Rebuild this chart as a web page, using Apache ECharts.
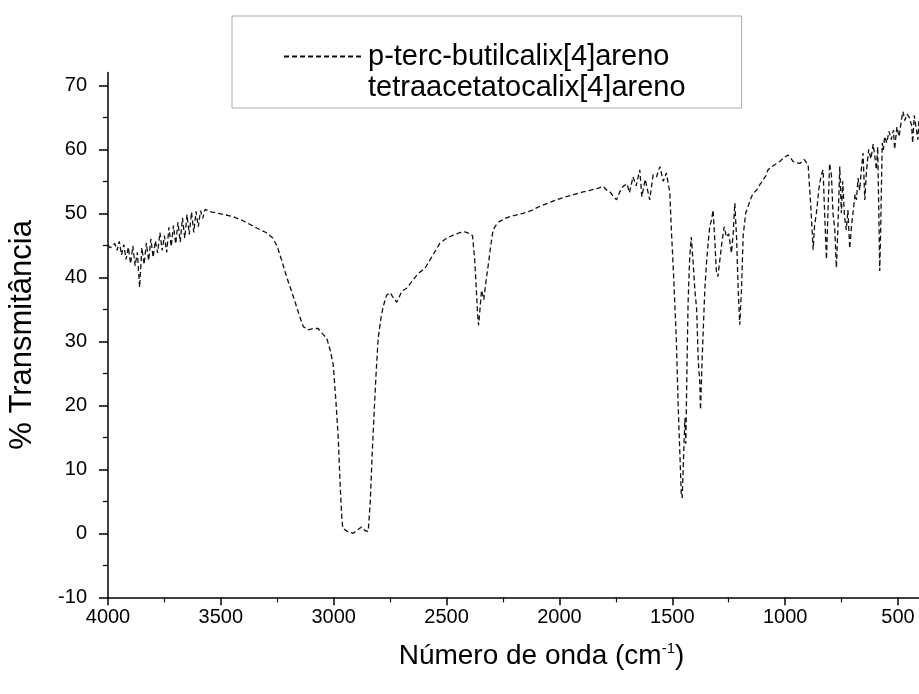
<!DOCTYPE html>
<html>
<head>
<meta charset="utf-8">
<script src="https://cdn.jsdelivr.net/npm/echarts@6/dist/echarts.min.js"></script>
<style>
html,body{margin:0;padding:0;background:#fff;}
#chart{width:919px;height:694px;}
</style>
</head>
<body>
<div id="chart"></div>
<script>
// ---- data ----
const seriesNames = ['p-terc-butilcalix[4]areno', 'tetraacetatocalix[4]areno'];
const xTicks = [4000, 3500, 3000, 2500, 2000, 1500, 1000, 500];
const xMinorTicks = [3750, 3250, 2750, 2250, 1750, 1250, 750];
const yTicks = [-10, 0, 10, 20, 30, 40, 50, 60, 70];
const yMinorTicks = [-5, 5, 15, 25, 35, 45, 55, 65];

const wavenumber = [
 4000,3990,3980,3970,3960,3950,3940,3930,3920,3910,
 3900,3890,3880,3870,3860,3850,3840,3830,3820,3810,
 3800,3790,3780,3770,3760,3750,3740,3730,3720,3710,
 3700,3690,3680,3670,3660,3650,3640,3630,3620,3610,
 3600,3590,3580,3570,3563,3540,3500,3446,3400,3341,
 3300,3269,3250,3231,3209,3179,3150,3135,3113,3090,
 3069,3050,3031,3015,3002,2990,2980,2972,2965,2960,
 2940,2914,2895,2877,2860,2847,2838,2830,2826,2818,
 2813,2803,2790,2781,2766,2750,2736,2721,2710,2699,
 2677,2650,2626,2596,2560,2530,2500,2471,2440,2419,
 2395,2385,2375,2368,2362,2358,2352,2345,2335,2325,
 2315,2305,2294,2280,2267,2240,2217,2161,2120,2087,
 2050,2013,1980,1939,1900,1865,1830,1806,1790,1777,
 1760,1747,1732,1718,1700,1690,1674,1660,1644,1635,
 1620,1600,1585,1570,1555,1540,1526,1511,1504,1495,
 1489,1482,1474,1466,1460,1456,1450,1444,1440,1435,
 1430,1423,1416,1408,1400,1392,1385,1378,1375,1369,
 1364,1356,1349,1341,1334,1326,1319,1312,1305,1298,
 1290,1280,1270,1260,1250,1238,1230,1223,1215,1208,
 1201,1193,1186,1175,1165,1150,1142,1127,1110,1098,
 1085,1076,1050,1024,1005,987,975,965,950,935,
 915,898,888,880,876,870,860,850,840,832,
 825,817,810,803,795,788,780,773,766,758,
 751,745,737,729,722,714,706,698,690,684,
 677,670,662,655,647,640,630,620,610,603,
 596,590,584,581,577,570,565,559,550,540,
 530,520,515,505,495,485,478,470,460,450,
 440,435,428,420,412,407
];
const transmittance = [
 45.0,44.6,44.9,45.3,44.2,45.6,43.5,45.1,42.8,44.7,
 42.1,44.9,41.8,43.9,38.4,44.6,42.0,45.4,42.6,46.0,
 43.1,45.7,43.8,47.0,44.2,46.5,43.9,47.8,44.8,48.1,
 45.2,48.6,45.5,49.3,46.1,49.8,46.7,50.2,47.0,50.3,
 47.9,50.4,49.2,50.6,50.5,50.2,49.9,49.5,48.8,47.7,
 47.0,46.1,44.8,42.7,40.1,37.0,33.8,32.3,31.8,32.0,
 32.0,31.2,30.5,28.5,26.3,20.5,15.0,8.0,3.0,0.8,
 0.3,0.0,0.5,1.0,0.4,0.3,5.0,12.0,15.1,21.0,
 24.5,30.5,33.8,35.4,37.2,37.6,36.8,36.1,36.9,37.8,
 38.3,39.5,40.6,41.4,43.5,45.3,46.1,46.6,47.0,47.1,
 46.8,46.5,42.5,38.0,34.0,32.5,35.0,38.0,36.5,39.5,
 42.0,44.8,47.4,48.2,48.7,49.2,49.5,50.0,50.5,51.1,
 51.6,52.1,52.5,52.9,53.3,53.6,53.9,54.2,53.6,53.4,
 52.6,52.1,53.4,54.2,54.6,53.2,55.7,54.3,56.8,52.6,
 55.3,52.1,56.0,55.7,57.3,55.0,56.3,53.2,47.4,41.0,
 36.0,30.2,20.0,12.0,6.0,5.5,12.0,18.0,14.0,26.0,
 36.0,43.0,46.3,42.5,38.0,35.0,27.0,23.5,19.3,26.0,
 30.7,38.0,42.0,45.5,47.9,49.0,50.5,46.0,41.0,40.1,
 42.5,45.5,47.9,46.3,46.8,43.8,47.0,51.6,46.0,38.0,
 32.6,38.5,46.5,50.0,51.0,52.5,53.1,53.6,54.6,55.2,
 55.9,56.8,57.5,58.1,58.7,59.1,58.6,58.1,57.9,57.8,
 58.4,57.5,52.0,47.0,44.3,47.9,50.5,54.0,56.0,56.8,
 50.0,42.8,50.5,57.8,56.0,50.0,47.4,41.5,48.0,57.3,
 50.0,55.0,49.5,47.4,50.5,44.5,48.0,50.5,53.0,52.1,
 55.5,53.6,57.0,59.4,52.1,56.5,60.0,58.5,60.8,59.0,
 56.8,60.4,48.0,41.0,47.0,61.0,59.9,62.0,61.0,62.8,
 61.5,63.0,60.0,63.5,62.0,64.6,65.9,64.5,65.5,65.0,
 63.8,61.0,65.3,65.1,61.5,64.8
];
const tetraWavenumber = [];
const tetraTransmittance = [];

// ---- chart ----
const font = "'Liberation Sans', Arial, Helvetica, sans-serif";
const chart = echarts.init(document.getElementById('chart'), null, {renderer: 'canvas'});
const pairs = (xs, ys) => xs.map((x, i) => [x, ys[i]]);
const plain = v => String(v);

const option = {
  backgroundColor: '#fff',
  animation: false,
  textStyle: {fontFamily: font, color: '#000'},
  grid: {left: 108, right: 0, top: 72.5, bottom: 96.7, containLabel: false, outerBoundsMode: 'none'},
  legend: {
    left: 232, top: 16,
    orient: 'vertical',
    padding: [26, 56, 6, 51],
    itemGap: 2,
    itemWidth: 79, itemHeight: 14,
    borderColor: '#aaa', borderWidth: 1,
    textStyle: {fontFamily: font, fontSize: 29, color: '#000'},
    data: [
      {name: seriesNames[0], itemStyle: {opacity: 0}},
      {name: seriesNames[1], lineStyle: {opacity: 0}, itemStyle: {opacity: 0}}
    ]
  },
  xAxis: [{
    type: 'value', inverse: true, min: 407, max: 4000,
    name: 'Número de onda (cm{s|-1})',
    nameLocation: 'middle', nameGap: 44,
    nameTextStyle: {fontFamily: font, fontSize: 28, color: '#000', padding: [0, 0, 0, 56],
      rich: {s: {fontFamily: font, fontSize: 15, verticalAlign: 'top', padding: [0, 0, 14, 0]}}},
    axisLine: {show: true, onZero: false, lineStyle: {color: '#000', width: 1.5}},
    axisTick: {show: true, inside: false, length: 8, customValues: xTicks, lineStyle: {color: '#000', width: 1.5}},
    axisLabel: {show: true, margin: 10, fontSize: 20, fontFamily: font, color: '#000', customValues: xTicks, formatter: plain},
    splitLine: {show: false}
  }, {
    type: 'value', inverse: true, min: 407, max: 4000, position: 'bottom',
    axisLine: {show: false, onZero: false}, splitLine: {show: false}, axisLabel: {show: false},
    axisTick: {show: true, length: 5, customValues: xMinorTicks, lineStyle: {color: '#000', width: 1.2}}
  }],
  yAxis: [{
    type: 'value', min: -10, max: 72,
    name: '% Transmitância',
    nameLocation: 'middle', nameGap: 70,
    nameTextStyle: {fontFamily: font, fontSize: 31, color: '#000'},
    axisLine: {show: true, onZero: false, lineStyle: {color: '#000', width: 1.5}},
    axisTick: {show: true, length: 9, customValues: yTicks, lineStyle: {color: '#000', width: 1.5}},
    axisLabel: {show: true, margin: 21, fontSize: 20, fontFamily: font, color: '#000', customValues: yTicks, formatter: plain},
    splitLine: {show: false}
  }, {
    type: 'value', min: -10, max: 72, position: 'left',
    axisLine: {show: false, onZero: false}, splitLine: {show: false}, axisLabel: {show: false},
    axisTick: {show: true, length: 5, customValues: yMinorTicks, lineStyle: {color: '#000', width: 1.2}}
  }],
  series: [{
    name: seriesNames[0], type: 'line', symbol: 'none', showSymbol: false,
    xAxisIndex: 0, yAxisIndex: 0,
    lineStyle: {color: '#111', width: 1.3, type: [5, 3]},
    itemStyle: {color: '#111'},
    data: pairs(wavenumber, transmittance)
  }, {
    name: seriesNames[1], type: 'line', symbol: 'none', showSymbol: false,
    xAxisIndex: 0, yAxisIndex: 0,
    lineStyle: {color: '#111', width: 1, opacity: 0},
    itemStyle: {color: '#111', opacity: 0},
    data: pairs(tetraWavenumber, tetraTransmittance)
  }]
};
chart.setOption(option);
</script>
</body>
</html>
